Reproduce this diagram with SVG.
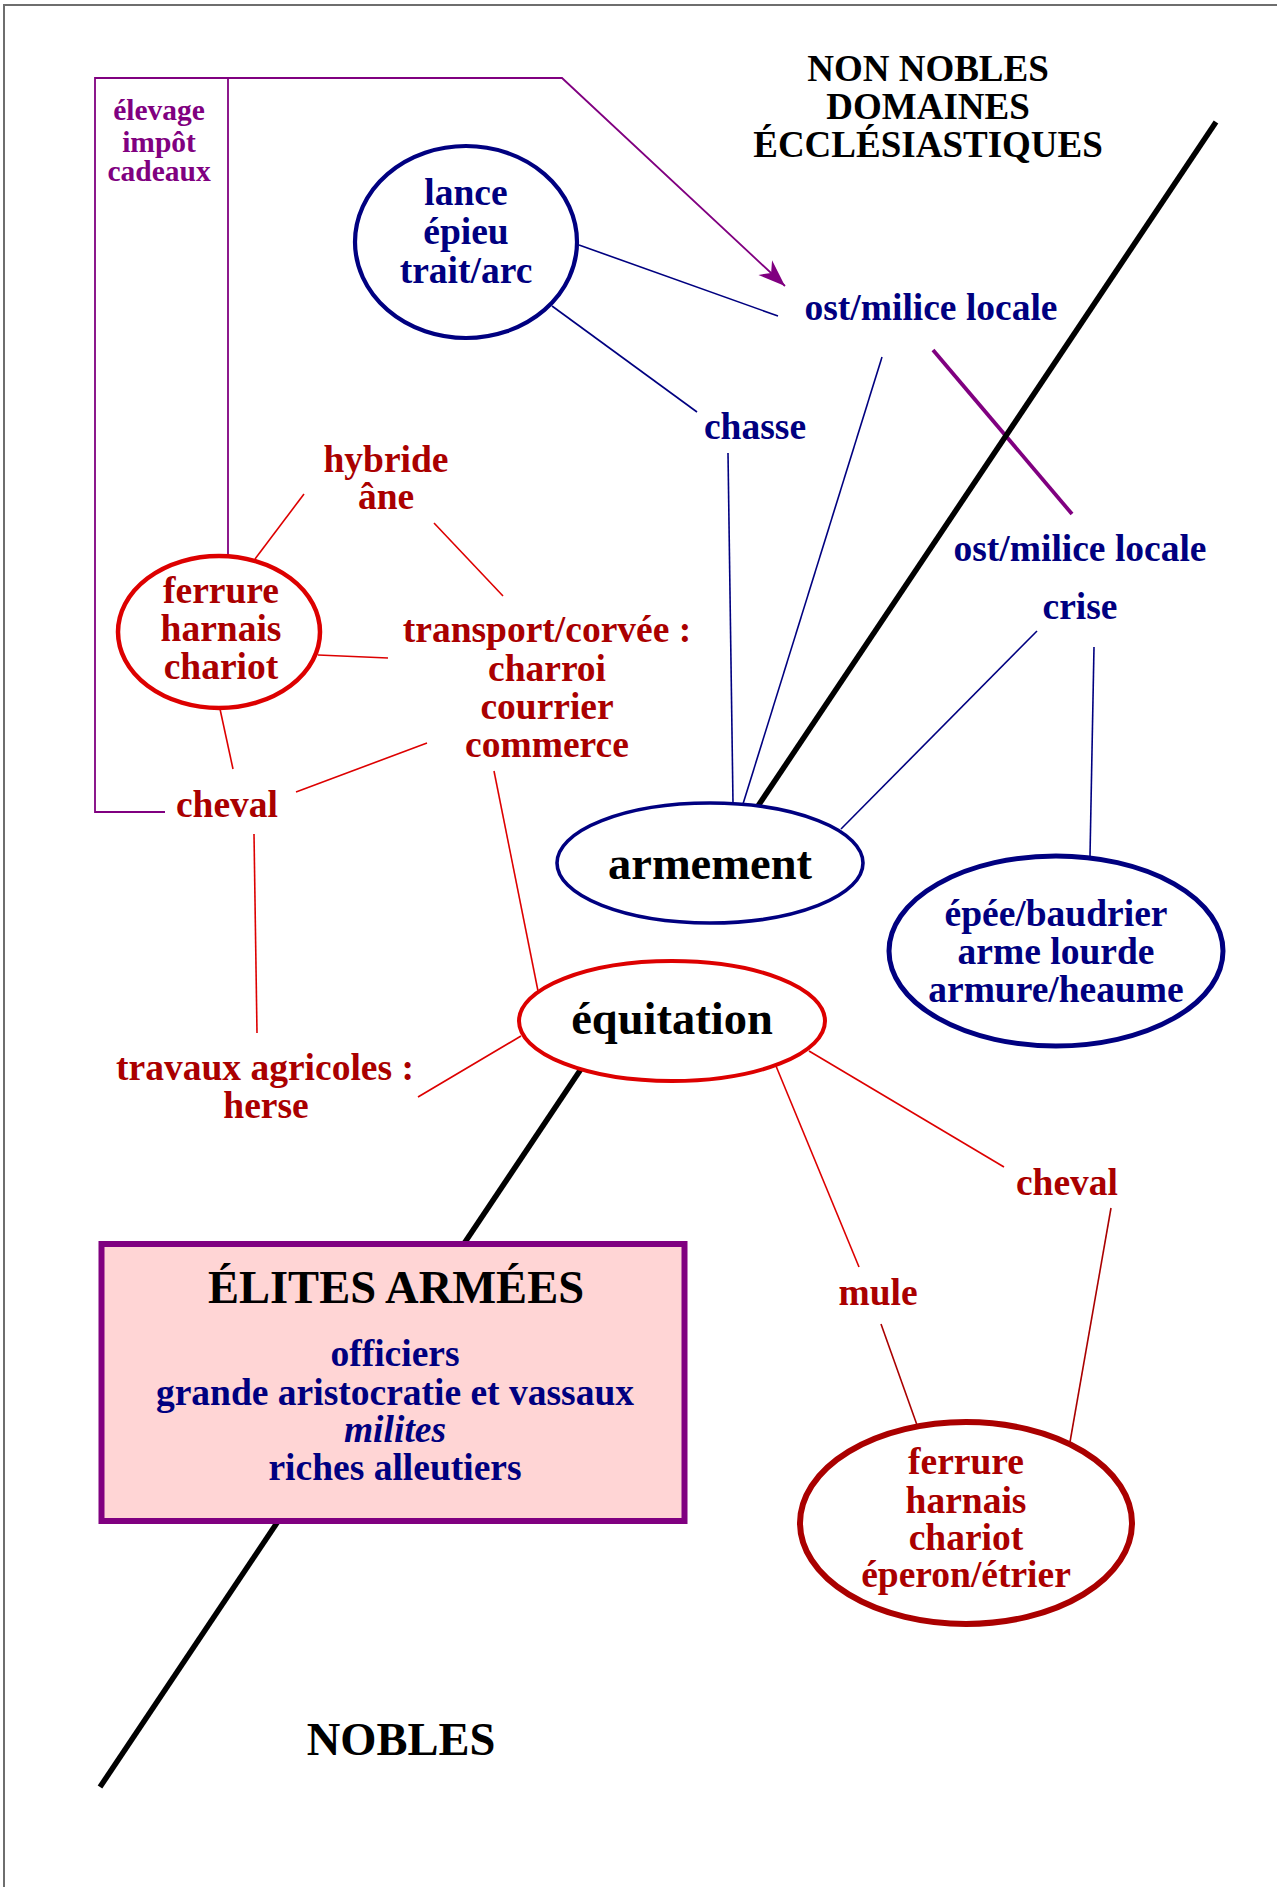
<svg xmlns="http://www.w3.org/2000/svg" width="1277" height="1887" viewBox="0 0 1277 1887">
<style>
text{font-family:"Liberation Serif","Times New Roman",serif;font-weight:bold;text-anchor:middle}
.t{font-size:37.5px}
.big{font-size:46.5px;fill:#000}
.ttl{font-size:37px;fill:#000}
.navy{fill:#000080}
.red{fill:#aa0000}
.pur{fill:#800080;font-size:29.5px}
.cn{stroke:#000080;stroke-width:1.6;fill:none}
.cr{stroke:#dd0000;stroke-width:1.6;fill:none}
.cp{stroke:#800080;stroke-width:1.8;fill:none}
.div{stroke:#000;stroke-width:5.5;fill:none}
</style>
<defs>
<marker id="arr" markerUnits="userSpaceOnUse" viewBox="-28 -12 30 24" refX="0" refY="0" markerWidth="30" markerHeight="24" orient="auto">
<path d="M0,0 L-27,-10 L-19,0 L-27,10 Z" fill="#800080"/>
</marker>
</defs>
<rect width="1277" height="1887" fill="#fff"/>
<path d="M4,1887 V5 H1277" fill="none" stroke="#6e6e6e" stroke-width="2"/>

<g id="connectors">
<path class="cp" d="M165,812 H95 V78 H562 L785,286" marker-end="url(#arr)"/>
<path class="cp" d="M228,78 V556"/>
<line class="cn" x1="579" y1="245" x2="778" y2="316"/>
<line class="cn" x1="552" y1="306" x2="697" y2="412"/>
<line class="cn" x1="728" y1="453" x2="733" y2="803"/>
<line class="cn" x1="882" y1="357" x2="743" y2="804"/>
<line class="cn" x1="1037" y1="631" x2="841" y2="829"/>
<line class="cn" x1="1094" y1="647" x2="1090" y2="856"/>
<line stroke="#800080" stroke-width="3.8" x1="933" y1="350" x2="1072" y2="514"/>
<line class="cr" x1="255" y1="559" x2="304" y2="494"/>
<line class="cr" x1="434" y1="523" x2="503" y2="596"/>
<line class="cr" x1="318" y1="655" x2="388" y2="658"/>
<line class="cr" x1="220" y1="709" x2="233" y2="769"/>
<line class="cr" x1="296" y1="792" x2="427" y2="743"/>
<line class="cr" x1="494" y1="771" x2="538" y2="991"/>
<line class="cr" x1="254" y1="834" x2="257" y2="1033"/>
<line class="cr" x1="418" y1="1097" x2="521" y2="1036"/>
<line class="cr" x1="776" y1="1066" x2="859" y2="1267"/>
<line class="cr" x1="809" y1="1051" x2="1004" y2="1167"/>
<line stroke="#aa0000" stroke-width="1.6" x1="881" y1="1324" x2="917" y2="1425"/>
<line stroke="#aa0000" stroke-width="1.6" x1="1111" y1="1208" x2="1070" y2="1442"/>
</g>

<g id="divider">
<line class="div" x1="1216" y1="122" x2="758" y2="806"/>
<line class="div" x1="583" y1="1066" x2="100" y2="1787"/>
</g>

<g id="title">
<text class="ttl" x="928" y="81">NON NOBLES</text>
<text class="ttl" x="928" y="119">DOMAINES</text>
<text class="ttl" x="928" y="157">ÉCCLÉSIASTIQUES</text>
</g>

<g id="n-elevage">
<text class="pur" x="159" y="120">élevage</text>
<text class="pur" x="159" y="152">impôt</text>
<text class="pur" x="159" y="181">cadeaux</text>
</g>

<g id="n-lance">
<ellipse cx="466" cy="242" rx="111" ry="96" fill="#fff" stroke="#000080" stroke-width="4.2"/>
<text class="t navy" x="466" y="205">lance</text>
<text class="t navy" x="466" y="244">épieu</text>
<text class="t navy" x="466" y="283">trait/arc</text>
</g>

<g id="n-ost1"><text class="t navy" x="931" y="320">ost/milice locale</text></g>
<g id="n-chasse"><text class="t navy" x="755" y="439">chasse</text></g>
<g id="n-ost2"><text class="t navy" x="1080" y="561">ost/milice locale</text></g>
<g id="n-crise"><text class="t navy" x="1080" y="619">crise</text></g>

<g id="n-armement">
<ellipse cx="710" cy="863" rx="153" ry="60" fill="#fff" stroke="#000080" stroke-width="3.6"/>
<text class="big" x="710" y="879">armement</text>
</g>

<g id="n-epee">
<ellipse cx="1056" cy="951" rx="167" ry="95" fill="#fff" stroke="#000080" stroke-width="5"/>
<text class="t navy" x="1056" y="926">épée/baudrier</text>
<text class="t navy" x="1056" y="964">arme lourde</text>
<text class="t navy" x="1056" y="1002">armure/heaume</text>
</g>

<g id="n-hybride">
<text class="t red" x="386" y="472">hybride</text>
<text class="t red" x="386" y="509">âne</text>
</g>

<g id="n-ferrure1">
<ellipse cx="219" cy="632" rx="101" ry="76" fill="#fff" stroke="#dd0000" stroke-width="4.5"/>
<text class="t red" x="221" y="603">ferrure</text>
<text class="t red" x="221" y="641">harnais</text>
<text class="t red" x="221" y="679">chariot</text>
</g>

<g id="n-transport">
<text class="t red" x="547" y="642">transport/corvée :</text>
<text class="t red" x="547" y="681">charroi</text>
<text class="t red" x="547" y="719">courrier</text>
<text class="t red" x="547" y="757">commerce</text>
</g>

<g id="n-cheval1"><text class="t red" x="227" y="817">cheval</text></g>

<g id="n-travaux">
<text class="t red" x="265" y="1080">travaux agricoles :</text>
<text class="t red" x="266" y="1118">herse</text>
</g>

<g id="n-equitation">
<ellipse cx="672" cy="1021" rx="153" ry="60" fill="#fff" stroke="#dd0000" stroke-width="4"/>
<text class="big" x="672" y="1034">équitation</text>
</g>

<g id="n-cheval2"><text class="t red" x="1067" y="1195">cheval</text></g>
<g id="n-mule"><text class="t red" x="878" y="1305">mule</text></g>

<g id="n-ferrure2">
<ellipse cx="966" cy="1523" rx="166" ry="101" fill="#fff" stroke="#aa0000" stroke-width="6"/>
<text class="t red" x="966" y="1474">ferrure</text>
<text class="t red" x="966" y="1513">harnais</text>
<text class="t red" x="966" y="1550">chariot</text>
<text class="t red" x="966" y="1587">éperon/étrier</text>
</g>

<g id="n-elites">
<rect x="101.5" y="1244" width="583" height="277" fill="#ffd5d5" stroke="#800080" stroke-width="6"/>
<text class="big" x="396" y="1303">ÉLITES ARMÉES</text>
<text class="t navy" x="395" y="1366">officiers</text>
<text class="t navy" x="395" y="1405">grande aristocratie et vassaux</text>
<text class="t navy" x="395" y="1442" font-style="italic">milites</text>
<text class="t navy" x="395" y="1480">riches alleutiers</text>
</g>

<g id="n-nobles"><text class="big" x="401" y="1755">NOBLES</text></g>
</svg>
